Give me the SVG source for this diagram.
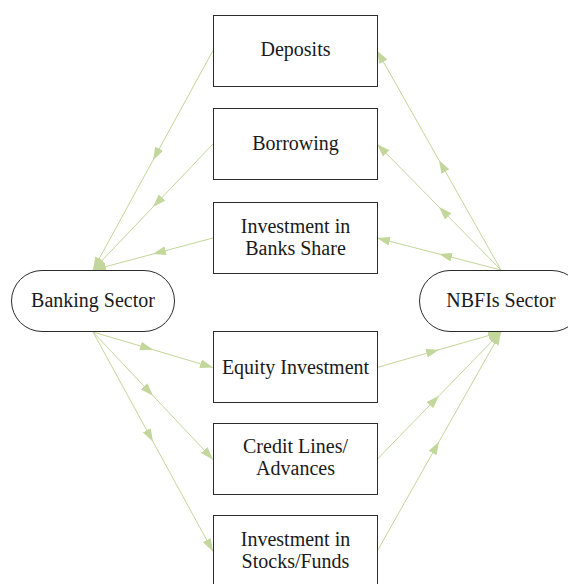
<svg xmlns="http://www.w3.org/2000/svg" width="568" height="584" viewBox="0 0 568 584">
<style>
.box{fill:#fff;stroke:#2b2b2b;stroke-width:1}
.t{font-family:'Liberation Serif','Times New Roman',Times,serif;font-size:20px;fill:#1a1a1a;text-anchor:middle}
.c{fill:none;stroke:#c3d69b;stroke-width:1;marker-mid:url(#ah);marker-end:url(#ah)}
</style>
<defs>
<marker id="ah" markerUnits="userSpaceOnUse" markerWidth="14" markerHeight="10" refX="13" refY="5" orient="auto">
<path d="M0,0.5 L13,5 L0,9.5 z" fill="#c3d69b"/>
</marker>
</defs>
<rect width="568" height="584" fill="#fff"/>
<g id="connectors">
<polyline class="c" points="213,50.5 153,160.2 93,270"/>
<polyline class="c" points="213,144 153,207 93,270"/>
<polyline class="c" points="213,238 153,254 93,270"/>
<polyline class="c" points="501,270 439,160.2 377,50.5"/>
<polyline class="c" points="501,270 439,207 377,144"/>
<polyline class="c" points="501,270 439,254 377,238"/>
<polyline class="c" points="93,332 153,349.7 213,367.5"/>
<polyline class="c" points="93,332 153,395.7 213,459.5"/>
<polyline class="c" points="93,332 153,441.7 213,551.5"/>
<polyline class="c" points="377,367.5 439,349.7 501,332"/>
<polyline class="c" points="377,459.5 439,395.7 501,332"/>
<polyline class="c" points="377,551.5 439,441.7 501,332"/>
</g>
<g id="deposits"><rect class="box" x="213.5" y="15.5" width="164" height="71"/><text class="t" x="295.5" y="56">Deposits</text></g>
<g id="borrowing"><rect class="box" x="213.5" y="108.5" width="164" height="71"/><text class="t" x="295.5" y="150">Borrowing</text></g>
<g id="investment-banks-share"><rect class="box" x="213.5" y="202.5" width="164" height="71"/><text class="t" x="295.5" y="233">Investment in</text><text class="t" x="295.5" y="255">Banks Share</text></g>
<g id="equity-investment"><rect class="box" x="213.5" y="331.5" width="164" height="71"/><text class="t" x="295.5" y="374">Equity Investment</text></g>
<g id="credit-lines"><rect class="box" x="213.5" y="423.5" width="164" height="71"/><text class="t" x="295.5" y="453">Credit Lines/</text><text class="t" x="295.5" y="475">Advances</text></g>
<g id="investment-stocks"><rect class="box" x="213.5" y="515.5" width="164" height="71"/><text class="t" x="295.5" y="546">Investment in</text><text class="t" x="295.5" y="568">Stocks/Funds</text></g>
<g id="banking-sector"><rect class="box" x="11.5" y="270.5" width="163" height="61" rx="30.5"/><text class="t" x="93" y="307">Banking Sector</text></g>
<g id="nbfis-sector"><rect class="box" x="419.5" y="270.5" width="163" height="61" rx="30.5"/><text class="t" x="501" y="307">NBFIs Sector</text></g>
</svg>
